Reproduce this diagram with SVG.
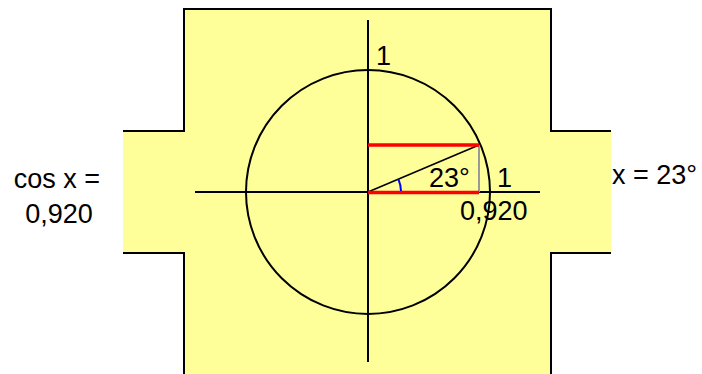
<svg xmlns="http://www.w3.org/2000/svg" width="702" height="374" viewBox="0 0 702 374">
<style>
.lbl{font-family:"Liberation Sans",Arial,sans-serif;font-size:27px;fill:#000}
.ax{stroke:#000;stroke-width:2;fill:none}
.red{stroke:#ff0000;stroke-width:3.5;fill:none}
</style>
<rect width="702" height="374" fill="#ffffff"/>
<g id="panel">
<polygon points="123,131 184,131 184,9 551,9 551,131 611,131 611,253 551,253 551,374 184,374 184,253 123,253" fill="#ffff99"/>
<path d="M123,131 H184 V9 H551 V131 H611 M611,253 H551 V374 M184,374 V253 H123" fill="none" stroke="#000" stroke-width="2"/>
</g>
<g id="unit-circle">
<circle cx="368" cy="192" r="122" fill="none" stroke="#000" stroke-width="2"/>
</g>
<g id="connectors">
<line class="ax" x1="195" y1="192" x2="540" y2="192"/>
<line class="ax" x1="368" y1="20" x2="368" y2="362"/>
<line x1="479" y1="145" x2="479" y2="192" stroke="#999" stroke-width="2"/>
<line x1="368" y1="192" x2="479" y2="145" stroke="#000" stroke-width="1.6"/>
<line class="red" x1="368" y1="145" x2="479" y2="145"/>
<line class="red" x1="368" y1="192.5" x2="479" y2="192.5"/>
<path d="M401,191 A33,33 0 0 0 398.4,179.1" fill="none" stroke="#0000ff" stroke-width="2"/>
</g>
<g id="labels">
<text class="lbl" x="376" y="65">1</text>
<text class="lbl" x="429" y="187">23°</text>
<text class="lbl" x="497" y="187">1</text>
<text class="lbl" x="460" y="220">0,920</text>
<text class="lbl" x="57" y="188" text-anchor="middle">cos x =</text>
<text class="lbl" x="59" y="223" text-anchor="middle">0,920</text>
<text class="lbl" x="612" y="184">x = 23°</text>
</g>
</svg>
